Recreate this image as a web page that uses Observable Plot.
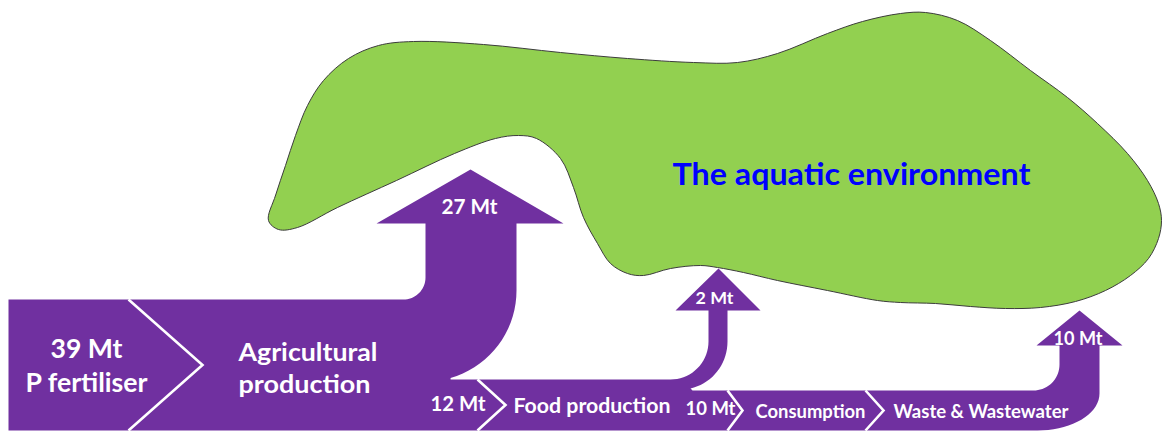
<!DOCTYPE html>
<html>
<head>
<meta charset="utf-8">
<script src="https://cdn.jsdelivr.net/npm/d3@7"></script>
<script src="https://cdn.jsdelivr.net/npm/@observablehq/plot@0.6"></script>
<style>
  html, body { margin: 0; padding: 0; background: #fff; }
  #chart svg { display: block; }
</style>
</head>
<body>
<div id="chart"></div>
<script>
// ---------------- DATA ----------------
const stageNames = ["P fertiliser", "Agricultural production", "Food production", "Consumption", "Waste & Wastewater"];
const flowNames  = ["Fertiliser input", "Agriculture to water", "Agriculture to food", "Food to water", "Food to consumption", "Wastewater to water"];
const flowValues = [39, 27, 12, 2, 10, 10];
const unit = "Mt";
const environmentName = "The aquatic environment";

// ---------------- LAYOUT (positions / sizes / styles) ----------------
const W = 1163, H = 432;
const colors = { flow: "#7030A0", env: "#92D050", envStroke: "#3c3c3c", title: "#0000FF", label: "#ffffff" };

// outline of the aquatic-environment blob (picture coordinates)
const blobX = [268,275,285,295,307,323,348,378,413,483,560,627,693,737,777,827,862,900,925,957,990,1030,1067,1097,1127,1147,1158,1161,1158,1148,1130,1105,1075,1040,1005,970,935,900,877,827,777,743,717,700,670,643,627,610,597,583,573,560,536,518,495,454,396,337,297,278];
const blobY = [220,195,165,135,105, 80, 58, 45, 41, 44, 52, 58, 62, 62, 53, 33, 21, 13, 12, 20, 40,  70,  97, 123, 153, 180, 203, 220, 238, 258, 275, 290, 301, 307, 308,306,303,302,300,290,280,272,267,265,268,275,273,263,243,217,187,158,138,135,138,153,180,207,227,229];

// flow geometry
const G = {
  left: 8, bottom: 430,
  srcTop: 299,
  a27: { l: 425, r: 516, base: 223, hl: 376, hr: 563, tipX: 470, tipY: 169, innerR: 22, outerC: [425, 290], outerR: 91, outerEndDeg: 74 },
  foodTop: 379,
  a2:  { l: 708, r: 727, base: 310, hl: 675, hr: 760, tipX: 718, tipY: 268, innerR: 38, outerC: [680, 341], outerRx: 47, outerRy: 48, outerEndDeg: 77.7 },
  consTop: 390,
  a10: { l: 1059, r: 1099, base: 345, hl: 1036, hr: 1122, tipX: 1079, tipY: 310, innerR: 26, outerC: [1037, 393], outerRx: 62, outerRy: 37 }
};
const chevrons = [
  { x: 128, top: 299, tip: 202 },
  { x: 477, top: 379, tip: 505 },
  { x: 727, top: 390, tip: 742 },
  { x: 865, top: 390, tip: 883 }
];

// label placement: [x (start), baseline, width, font size]
const labelPos = [
  [50, 357, 72, 26],    // 39 Mt
  [25, 391, 122, 26],   // P fertiliser
  [238, 360, 139, 25],  // Agricultural
  [238, 392, 132, 25],  // production
  [441, 213, 56, 20],   // 27 Mt
  [430, 410, 55, 20],   // 12 Mt
  [513, 412, 157, 20],  // Food production
  [695, 303, 38, 17.5], // 2 Mt
  [685, 414, 50, 19],   // 10 Mt
  [755, 417, 110, 18.5],// Consumption
  [893, 417, 175, 18.5],// Waste & Wastewater
  [1053, 344, 49, 18.5] // 10 Mt
];
const titlePos = [672, 184, 358, 31];

// ---------------- BUILD ----------------
const P = (x, y) => ({ x, y });
function arc(cx, cy, rx, ry, a0, a1, n = 18) {
  const pts = [];
  for (let i = 0; i <= n; i++) {
    const a = (a0 + (a1 - a0) * i / n) * Math.PI / 180;
    pts.push(P(cx + rx * Math.cos(a), cy + ry * Math.sin(a)));
  }
  return pts;
}
function head(a) {
  return [P(a.l, a.base), P(a.hl, a.base), P(a.tipX, a.tipY), P(a.hr, a.base), P(a.r, a.base)];
}
const a27 = G.a27, a2 = G.a2, a10 = G.a10;
const outline = [
  P(G.left, G.bottom), P(G.left, G.srcTop),
  ...arc(a27.l - a27.innerR, G.srcTop - a27.innerR, a27.innerR, a27.innerR, 90, 0),
  ...head(a27),
  ...arc(a27.outerC[0], a27.outerC[1], a27.outerR, a27.outerR, 0, a27.outerEndDeg),
  P(a27.outerC[0] + a27.outerR * Math.cos(a27.outerEndDeg * Math.PI / 180), G.foodTop),
  ...arc(a2.l - a2.innerR, G.foodTop - a2.innerR, a2.innerR, a2.innerR, 90, 0),
  ...head(a2),
  ...arc(a2.outerC[0], a2.outerC[1], a2.outerRx, a2.outerRy, 0, a2.outerEndDeg),
  P(a2.outerC[0] + a2.outerRx * Math.cos(a2.outerEndDeg * Math.PI / 180) + 2, G.consTop),
  ...arc(a10.l - a10.innerR, G.consTop - a10.innerR, a10.innerR, a10.innerR, 90, 0),
  ...head(a10),
  ...arc(a10.outerC[0], a10.outerC[1], a10.outerRx, a10.outerRy, 0, 90)
];

const chevronPts = chevrons.flatMap((c, i) => [
  { x: c.x, y: c.top, k: i },
  { x: c.tip, y: (c.top + G.bottom) / 2, k: i },
  { x: c.x, y: G.bottom, k: i }
]);

const blob = blobX.map((x, i) => P(x, blobY[i]));

const mt = v => `${v} ${unit}`;
const labelTexts = [
  mt(flowValues[0]), stageNames[0],
  ...stageNames[1].split(" "),
  mt(flowValues[1]), mt(flowValues[2]), stageNames[2],
  mt(flowValues[3]), mt(flowValues[4]), stageNames[3], stageNames[4],
  mt(flowValues[5])
];
const labels = labelTexts.map((t, i) => ({ text: t, x: labelPos[i][0], y: labelPos[i][1], w: labelPos[i][2], fs: labelPos[i][3] }));
const title = [{ text: environmentName, x: titlePos[0], y: titlePos[1], w: titlePos[2], fs: titlePos[3] }];

const font = "Lato, 'Open Sans', sans-serif";

const svg = Plot.plot({
  width: W, height: H,
  margin: 0,
  x: { domain: [0, W], range: [0, W], axis: null },
  y: { domain: [0, H], range: [0, H], axis: null },
  style: { background: "white", fontFamily: font },
  marks: [
    Plot.line(blob, { x: "x", y: "y", curve: "catmull-rom-closed", fill: colors.env, stroke: colors.envStroke, strokeWidth: 1 }),
    Plot.line(outline, { x: "x", y: "y", curve: "linear-closed", fill: colors.flow, stroke: "none" }),
    Plot.line(chevronPts, { x: "x", y: "y", z: "k", stroke: "white", strokeWidth: 2.6, strokeLinejoin: "miter", strokeLinecap: "butt", strokeMiterlimit: 10 }),
    Plot.text(labels, { x: "x", y: "y", text: "text", fontSize: "fs", fill: colors.label, fontWeight: "bold", fontFamily: font, textAnchor: "start", lineAnchor: "bottom" }),
    Plot.text(title, { x: "x", y: "y", text: "text", fontSize: "fs", fill: colors.title, fontWeight: "bold", fontFamily: font, textAnchor: "start", lineAnchor: "bottom" })
  ]
});

// fit each label to its measured width
const all = [...labels, ...title];
svg.querySelectorAll("text").forEach((el, i) => {
  if (all[i]) {
    el.setAttribute("textLength", all[i].w);
    el.setAttribute("lengthAdjust", "spacingAndGlyphs");
  }
});

document.getElementById("chart").appendChild(svg);
</script>
</body>
</html>
